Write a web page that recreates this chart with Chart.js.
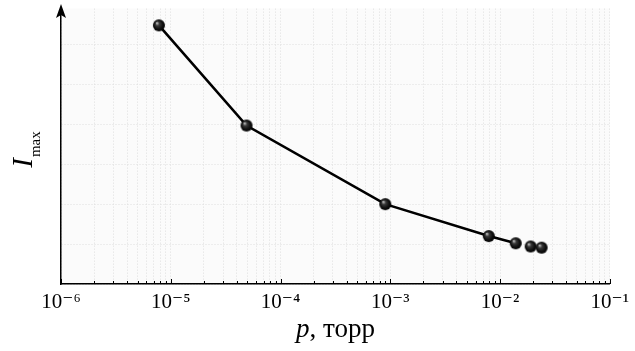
<!DOCTYPE html>
<html>
<head>
<meta charset="utf-8">
<script src="https://cdn.jsdelivr.net/npm/chart.js@4"></script>
<style>
  html, body { margin: 0; padding: 0; background: #fff; }
  #wrap { width: 635px; height: 351px; }
</style>
</head>
<body>
<div id="wrap"><canvas id="chart"></canvas></div>
<script>
// pressure, torr (log axis) and peak intensity (arbitrary units)
const pressure = [7.8e-6, 4.9e-5, 9.0e-4, 7.9e-3, 1.39e-2, 1.90e-2, 2.39e-2];
const intensity = [6.48, 3.97, 2.0, 1.2, 1.02, 0.94, 0.91];

const decadeExps = [-6, -5, -4, -3, -2, -1];
const decadeLabels = ['10⁻⁶', '10⁻⁵', '10⁻⁴', '10⁻³', '10⁻²', '10⁻¹'];
const minorSteps = [2, 3, 4, 5, 6, 7, 8, 9];

const serif = "'Liberation Serif', 'DejaVu Serif', serif";

// shaded black ball used as the marker
function makeBall(r) {
    const c = document.createElement('canvas');
    c.width = c.height = r * 2 + 2;
    const g = c.getContext('2d');
    const cx = r + 1;
    const grad = g.createRadialGradient(cx - r * 0.35, cx - r * 0.4, r * 0.05, cx, cx, r);
    grad.addColorStop(0, '#c8c8c8');
    grad.addColorStop(0.3, '#3a3a3a');
    grad.addColorStop(0.7, '#111');
    grad.addColorStop(1, '#000');
    g.fillStyle = grad;
    g.beginPath();
    g.arc(cx, cx, r, 0, Math.PI * 2);
    g.fill();
    return c;
}

function buildLogTicks() {
    const ticks = [];
    decadeExps.forEach(function(e, i) {
        ticks.push({ value: Math.pow(10, e), major: true });
        if (i < decadeExps.length - 1) {
            minorSteps.forEach(function(m) {
                ticks.push({ value: m * Math.pow(10, e), major: false });
            });
        }
    });
    return ticks;
}

const decor = {
    id: 'decor',
    beforeDraw(chart) {
        const { ctx, chartArea: a } = chart;
        ctx.save();
        ctx.fillStyle = '#fbfbfb';
        ctx.fillRect(a.left, a.top, a.right - a.left, a.bottom - a.top);
        ctx.restore();
    },
    afterDraw(chart) {
        const { ctx, chartArea: a, scales: { x } } = chart;
        ctx.save();
        // tick marks pointing into the plot
        ctx.strokeStyle = '#000';
        ctx.lineWidth = 1;
        ctx.beginPath();
        x.ticks.forEach(function(t) {
            const px = Math.round(x.getPixelForValue(t.value)) + 0.5;
            const len = t.major ? 5 : 3;
            ctx.moveTo(px, a.bottom);
            ctx.lineTo(px, a.bottom - len);
        });
        ctx.stroke();

        // arrow on the y axis
        ctx.lineWidth = 1.5;
        ctx.beginPath();
        ctx.moveTo(a.left, a.top);
        ctx.lineTo(a.left, 14);
        ctx.stroke();
        ctx.fillStyle = '#000';
        ctx.beginPath();
        ctx.moveTo(a.left, 4);
        ctx.lineTo(a.left + 5, 18);
        ctx.lineTo(a.left, 15);
        ctx.lineTo(a.left - 5, 18);
        ctx.closePath();
        ctx.fill();

        // x title: "p, торр"
        ctx.fillStyle = '#000';
        ctx.textBaseline = 'alphabetic';
        const f1 = 'italic 27px ' + serif;
        const f2 = '27px ' + serif;
        ctx.font = f1;
        const w1 = ctx.measureText('p').width;
        ctx.font = f2;
        const w2 = ctx.measureText(', торр').width;
        let sx = (a.left + a.right) / 2 - (w1 + w2) / 2;
        ctx.font = f1;
        ctx.fillText('p', sx, 337);
        ctx.font = f2;
        ctx.fillText(', торр', sx + w1, 337);

        // y title: I with subscript "max"
        ctx.translate(32, 150);
        ctx.rotate(-Math.PI / 2);
        const g1 = 'italic 29px ' + serif;
        const g2 = '15px ' + serif;
        ctx.font = g1;
        const v1 = ctx.measureText('I').width;
        ctx.font = g2;
        const v2 = ctx.measureText('max').width;
        const sy = -(v1 + v2) / 2;
        ctx.font = g1;
        ctx.fillText('I', sy, 0);
        ctx.font = g2;
        ctx.fillText('max', sy + v1 + 1, 8);
        ctx.restore();
    }
};

const points = pressure.map(function(p, i) {
    return { x: p, y: intensity[i] };
});

new Chart(document.getElementById('chart'), {
    type: 'line',
    data: {
        datasets: [{
            label: 'Imax',
            data: points,
            borderColor: '#000',
            borderWidth: 2.6,
            pointStyle: makeBall(6),
            pointRadius: 6,
            segment: {
                borderColor: function(ctx) {
                    return ctx.p0DataIndex >= 4 ? 'rgba(0,0,0,0)' : '#000';
                }
            },
            tension: 0
        }]
    },
    options: {
        responsive: true,
        maintainAspectRatio: false,
        animation: false,
        layout: {
            padding: { top: 8, right: 23, left: 0, bottom: 0 }
        },
        plugins: {
            legend: { display: false },
            tooltip: { enabled: false }
        },
        scales: {
            x: {
                type: 'logarithmic',
                min: 1e-6,
                max: 1e-1,
                afterBuildTicks: function(scale) {
                    scale.ticks = buildLogTicks();
                },
                afterFit: function(scale) {
                    scale.height = 67;
                },
                grid: {
                    color: '#dedede',
                    lineWidth: 1,
                    drawTicks: false
                },
                border: {
                    display: true,
                    color: '#000',
                    width: 1.5,
                    dash: [1, 2]
                },
                ticks: {
                    autoSkip: false,
                    maxRotation: 0,
                    padding: 6,
                    color: '#000',
                    font: { family: serif, size: 21 },
                    callback: function(value) {
                        const e = Math.round(Math.log10(value));
                        const i = decadeExps.indexOf(e);
                        if (i >= 0 && Math.abs(value / Math.pow(10, e) - 1) < 1e-6) {
                            return decadeLabels[i];
                        }
                        return '';
                    }
                }
            },
            y: {
                min: 0,
                max: 6.9,
                afterFit: function(scale) {
                    scale.width = 61;
                },
                grid: {
                    color: function(ctx) {
                        return Number.isInteger(ctx.tick.value) ? '#dedede' : 'rgba(0,0,0,0)';
                    },
                    lineWidth: 1,
                    drawTicks: false
                },
                border: {
                    display: true,
                    color: '#000',
                    width: 1.5,
                    dash: [1, 2]
                },
                ticks: {
                    display: false,
                    stepSize: 1
                }
            }
        }
    },
    plugins: [decor]
});
</script>
</body>
</html>
